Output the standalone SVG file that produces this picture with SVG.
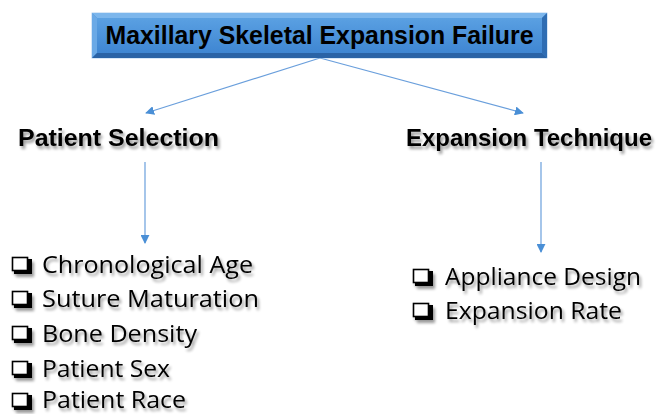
<svg xmlns="http://www.w3.org/2000/svg" width="661" height="414" viewBox="0 0 661 414">
<style>
.h{font-family:"Liberation Sans",Arial,sans-serif;font-weight:bold;fill:#000}
.t{font-family:"Open Sans","Liberation Sans",Arial,sans-serif;font-size:23.5px;fill:#000}
.c{stroke:#6a9fdc;stroke-width:1.2;fill:none}
.bx{fill:#fff;stroke:#000;stroke-width:1.6}
.bs{fill:#000}
</style>
<defs>
<marker id="ah" viewBox="0 0 10 10" refX="9" refY="5" markerWidth="9" markerHeight="9" markerUnits="userSpaceOnUse" orient="auto">
<path d="M0,0 L10,5 L0,10 Z" fill="#4a8fd6"/>
</marker>
<linearGradient id="face" x1="0" y1="0" x2="0" y2="1">
<stop offset="0" stop-color="#5aa0e2"/>
<stop offset="1" stop-color="#3f86d2"/>
</linearGradient>
<filter id="sh" x="-3%" y="-20%" width="105%" height="140%">
<feGaussianBlur in="SourceAlpha" stdDeviation="1.8"/>
<feOffset dx="2" dy="3" result="b"/>
<feComponentTransfer><feFuncA type="linear" slope="0.4"/></feComponentTransfer>
<feMerge><feMergeNode/><feMergeNode in="SourceGraphic"/></feMerge>
</filter>
</defs>

<g id="connectors">
<line class="c" x1="320" y1="58" x2="146" y2="113" marker-end="url(#ah)"/>
<line class="c" x1="320" y1="58" x2="523" y2="113" marker-end="url(#ah)"/>
<line class="c" x1="145" y1="162" x2="145" y2="243" marker-end="url(#ah)"/>
<line class="c" x1="541" y1="162" x2="541" y2="252" marker-end="url(#ah)"/>
</g>

<g id="title">
<rect x="92" y="13" width="455" height="45" fill="#3f86d2" stroke="#9cc3ea" stroke-width="0.8"/>
<polygon points="92,13 547,13 542,18 97,18" fill="#7cb6ec"/>
<polygon points="92,13 97,18 97,53 92,58" fill="#6aa9e6"/>
<polygon points="547,13 547,58 542,53 542,18" fill="#2f6db3"/>
<polygon points="92,58 97,53 542,53 547,58" fill="#2a63a6"/>
<rect x="97" y="18" width="445" height="35" fill="url(#face)"/>
<text class="h" x="319.5" y="44" font-size="25" text-anchor="middle" textLength="428" lengthAdjust="spacingAndGlyphs">Maxillary Skeletal Expansion Failure</text>
</g>

<g id="patient-selection" filter="url(#sh)">
<text class="h" x="18" y="146" font-size="24.5" textLength="201" lengthAdjust="spacingAndGlyphs">Patient Selection</text>
</g>

<g id="expansion-technique" filter="url(#sh)">
<text class="h" x="406" y="146" font-size="24.5" textLength="246" lengthAdjust="spacingAndGlyphs">Expansion Technique</text>
</g>

<g id="patient-list" filter="url(#sh)">
<rect class="bs" x="14" y="259" width="18" height="15"/><rect class="bx" x="12.5" y="257.5" width="15" height="13"/>
<text class="t" x="42" y="273" textLength="211" lengthAdjust="spacingAndGlyphs">Chronological Age</text>
<rect class="bs" x="14" y="293" width="18" height="15"/><rect class="bx" x="12.5" y="291.5" width="15" height="13"/>
<text class="t" x="42" y="307" textLength="217" lengthAdjust="spacingAndGlyphs">Suture Maturation</text>
<rect class="bs" x="14" y="328" width="18" height="15"/><rect class="bx" x="12.5" y="326.5" width="15" height="13"/>
<text class="t" x="42" y="342" textLength="155" lengthAdjust="spacingAndGlyphs">Bone Density</text>
<rect class="bs" x="14" y="363" width="18" height="15"/><rect class="bx" x="12.5" y="361.5" width="15" height="13"/>
<text class="t" x="42" y="377" textLength="128" lengthAdjust="spacingAndGlyphs">Patient Sex</text>
<rect class="bs" x="14" y="395" width="18" height="15"/><rect class="bx" x="12.5" y="393.5" width="15" height="13"/>
<text class="t" x="42" y="408" textLength="144" lengthAdjust="spacingAndGlyphs">Patient Race</text>
</g>

<g id="technique-list" filter="url(#sh)">
<rect class="bs" x="415" y="271" width="18" height="15"/><rect class="bx" x="413.5" y="269.5" width="15" height="13"/>
<text class="t" x="445" y="285" textLength="196" lengthAdjust="spacingAndGlyphs">Appliance Design</text>
<rect class="bs" x="415" y="305" width="18" height="15"/><rect class="bx" x="413.5" y="303.5" width="15" height="13"/>
<text class="t" x="445" y="319" textLength="177" lengthAdjust="spacingAndGlyphs">Expansion Rate</text>
</g>
</svg>
